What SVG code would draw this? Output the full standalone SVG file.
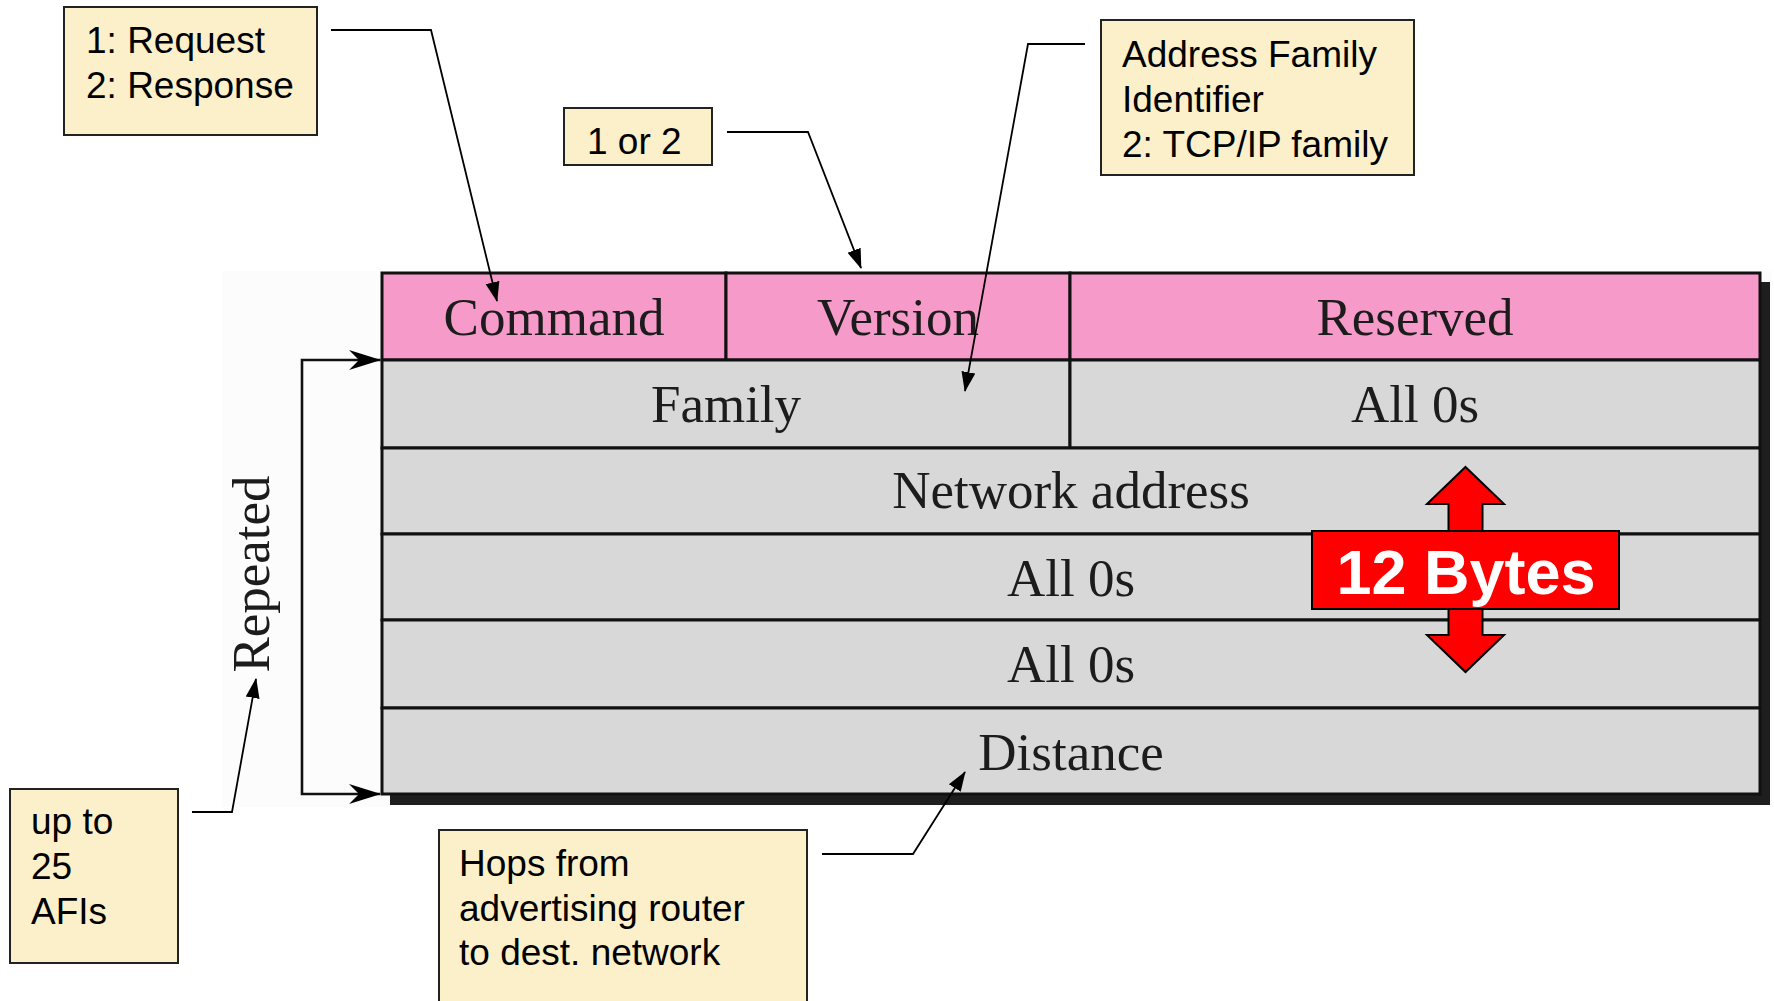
<svg xmlns="http://www.w3.org/2000/svg" width="1774" height="1001" viewBox="0 0 1774 1001">
  <style>
    .cell-hdr { fill: #F69AC9; stroke: #111; stroke-width: 3; }
    .cell { fill: #D8D8D8; stroke: #111; stroke-width: 3; }
    .field { font-family: "Liberation Serif", "Times New Roman", serif; font-size: 53px; fill: #1c1c1c; text-anchor: middle; }
    .note rect { fill: #FCF0CA; stroke: #222; stroke-width: 2; }
    .note text { font-family: "Liberation Sans", Arial, sans-serif; font-size: 37px; fill: #000; }
    .conn { fill: none; stroke: #000; stroke-width: 1.8; }
    .bracket { fill: none; stroke: #111; stroke-width: 2.6; }
  </style>
  <defs>
    <marker id="tip" markerUnits="userSpaceOnUse" viewBox="0 0 20 16" markerWidth="20" markerHeight="16" refX="19" refY="8" orient="auto">
      <path d="M0,1 L20,8 L0,15 Z" fill="#000"/>
    </marker>
    <marker id="bigtip" markerUnits="userSpaceOnUse" viewBox="0 0 32 22" markerWidth="32" markerHeight="22" refX="31" refY="11" orient="auto-start-reverse">
      <path d="M0,1 L32,11 L0,21 L10,11 Z" fill="#000"/>
    </marker>
  </defs>

  <!-- figure backdrop -->
  <rect x="222" y="271" width="1550" height="536" fill="#FCFCFC"/>

  <!-- RIP message layout -->
  <g id="rip-table">
    <rect x="390" y="282" width="1380" height="523" fill="#1e1e1e"/>
    <g id="row-header">
      <rect class="cell-hdr" x="382" y="273" width="344" height="87"/>
      <rect class="cell-hdr" x="726" y="273" width="344" height="87"/>
      <rect class="cell-hdr" x="1070" y="273" width="690" height="87"/>
      <text class="field" x="554" y="335">Command</text>
      <text class="field" x="898" y="335">Version</text>
      <text class="field" x="1415" y="335">Reserved</text>
    </g>
    <g id="row-family">
      <rect class="cell" x="382" y="360" width="688" height="88"/>
      <rect class="cell" x="1070" y="360" width="690" height="88"/>
      <text class="field" x="726" y="422">Family</text>
      <text class="field" x="1415" y="422">All 0s</text>
    </g>
    <g id="row-network">
      <rect class="cell" x="382" y="448" width="1378" height="86"/>
      <text class="field" x="1071" y="508">Network address</text>
    </g>
    <g id="row-zero1">
      <rect class="cell" x="382" y="534" width="1378" height="86"/>
      <text class="field" x="1071" y="596">All 0s</text>
    </g>
    <g id="row-zero2">
      <rect class="cell" x="382" y="620" width="1378" height="88"/>
      <text class="field" x="1071" y="682">All 0s</text>
    </g>
    <g id="row-distance">
      <rect class="cell" x="382" y="708" width="1378" height="86"/>
      <text class="field" x="1071" y="770">Distance</text>
    </g>
  </g>

  <!-- 12-byte span marker -->
  <g id="span-12-bytes">
    <polygon points="1465.5,467 1504,504 1482.5,504 1482.5,635 1504,635 1465.5,672 1427,635 1448.5,635 1448.5,504 1427,504" fill="#FF0000" stroke="#000" stroke-width="2" stroke-linejoin="miter"/>
    <rect x="1312" y="531" width="307" height="78" fill="#FF0000" stroke="#000" stroke-width="2"/>
    <text x="1466" y="594" text-anchor="middle" font-family="Liberation Sans, Arial, sans-serif" font-weight="bold" font-size="63" fill="#FFFFFF">12 Bytes</text>
  </g>

  <!-- repeat label -->
  <g id="repeated-label">
    <text class="field" transform="translate(269,574) rotate(-90)" fill="#2a2a2a">Repeated</text>
  </g>

  <!-- callout notes -->
  <g id="note-command" class="note">
    <rect x="64" y="7" width="253" height="128"/>
    <text x="86" y="53">1: Request</text>
    <text x="86" y="98">2: Response</text>
  </g>
  <g id="note-version" class="note">
    <rect x="564" y="108" width="148" height="57"/>
    <text x="587" y="154">1 or 2</text>
  </g>
  <g id="note-family" class="note">
    <rect x="1101" y="20" width="313" height="155"/>
    <text x="1122" y="67">Address Family</text>
    <text x="1122" y="112">Identifier</text>
    <text x="1122" y="157">2: TCP/IP family</text>
  </g>
  <g id="note-count" class="note">
    <rect x="10" y="789" width="168" height="174"/>
    <text x="31" y="834">up to</text>
    <text x="31" y="879">25</text>
    <text x="31" y="924">AFIs</text>
  </g>
  <g id="note-distance" class="note">
    <rect x="439" y="830" width="368" height="180"/>
    <text x="459" y="876">Hops from</text>
    <text x="459" y="921">advertising router</text>
    <text x="459" y="965">to dest. network</text>
  </g>

  <!-- connectors -->
  <g id="connectors">
    <path class="conn" d="M331,30 H431 L497,301" marker-end="url(#tip)"/>
    <path class="conn" d="M727,132 H808 L861,268" marker-end="url(#tip)"/>
    <path class="conn" d="M1085,44 H1028 L965,391" marker-end="url(#tip)"/>
    <path class="conn" d="M192,812 H232 L256,679" marker-end="url(#tip)"/>
    <path class="conn" d="M822,854 H913 L965,772" marker-end="url(#tip)"/>
    <path class="bracket" d="M380,360 H302 V794 H380" marker-start="url(#bigtip)" marker-end="url(#bigtip)"/>
  </g>
</svg>
